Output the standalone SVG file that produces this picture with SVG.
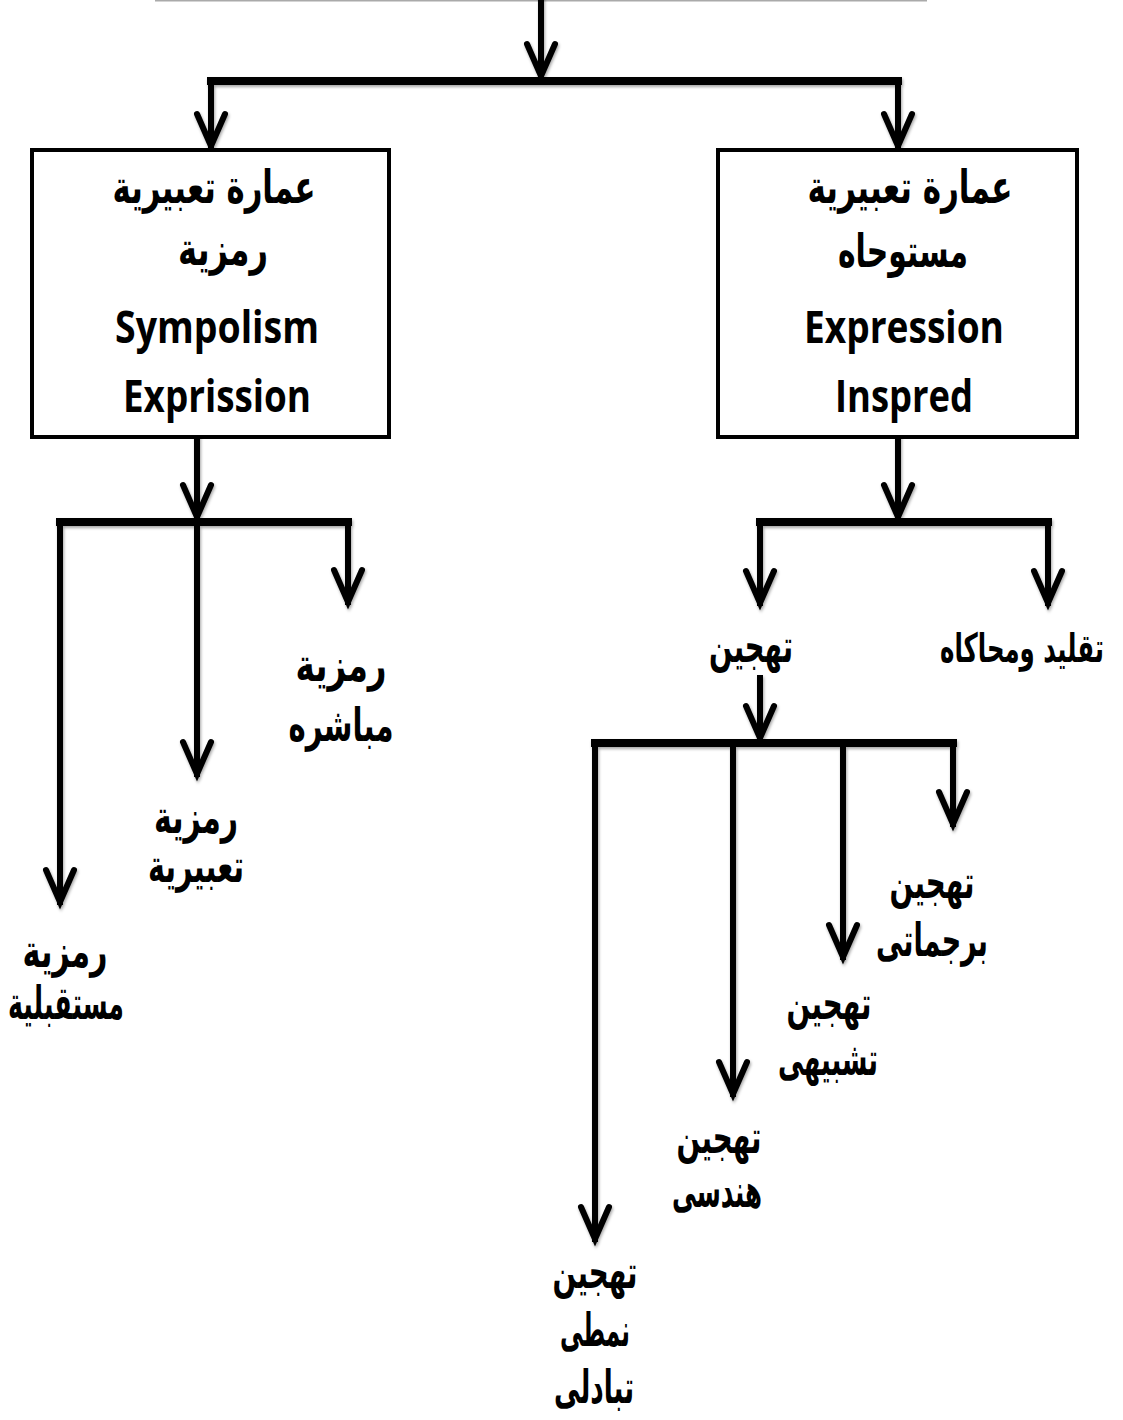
<svg xmlns="http://www.w3.org/2000/svg" width="1123" height="1420" viewBox="0 0 1123 1420">
<style>
.box{fill:#fff;stroke:#000;stroke-width:4}
.ar{font-family:"DejaVu Sans",sans-serif;font-weight:bold;font-size:46px;fill:#000;text-anchor:middle}
.en{font-family:"Open Sans","Liberation Sans",sans-serif;font-weight:700;font-size:44px;fill:#000;text-anchor:middle}
.ln{stroke:#000;stroke-width:6;fill:none;stroke-linecap:square}
.bar{stroke:#000;stroke-width:8;fill:none;stroke-linecap:square}
.hd{stroke:#000;stroke-width:6;fill:none;stroke-linecap:round;stroke-linejoin:miter}
</style>
<defs>
<filter id="sh" x="-10%" y="-10%" width="120%" height="120%">
<feDropShadow dx="1" dy="2" stdDeviation="1.5" flood-color="#000" flood-opacity="0.35"/>
</filter>
</defs>
<rect width="1123" height="1420" fill="#fff"/>
<line x1="155" y1="0.5" x2="927" y2="0.5" stroke="#aaa" stroke-width="2"/>

<g id="connectors" filter="url(#sh)">
  <line class="ln" x1="541" y1="0" x2="541" y2="76"/>
  <path class="hd" d="M527,44 L541,76 L555,44"/>
  <line class="bar" x1="211" y1="81" x2="898" y2="81"/>
  <line class="ln" x1="211" y1="81" x2="211" y2="146"/>
  <path class="hd" d="M197,114 L211,146 L225,114"/>
  <line class="ln" x1="898" y1="81" x2="898" y2="146"/>
  <path class="hd" d="M884,114 L898,146 L912,114"/>
  <line class="ln" x1="197" y1="438" x2="197" y2="517"/>
  <path class="hd" d="M183,485 L197,517 L211,485"/>
  <line class="bar" x1="60" y1="522" x2="348" y2="522"/>
  <line class="ln" x1="348" y1="522" x2="348" y2="602"/>
  <path class="hd" d="M334,570 L348,602 L362,570"/>
  <line class="ln" x1="197" y1="522" x2="197" y2="774"/>
  <path class="hd" d="M183,742 L197,774 L211,742"/>
  <line class="ln" x1="60" y1="522" x2="60" y2="902"/>
  <path class="hd" d="M46,870 L60,902 L74,870"/>
  <line class="ln" x1="898" y1="438" x2="898" y2="517"/>
  <path class="hd" d="M884,485 L898,517 L912,485"/>
  <line class="bar" x1="760" y1="522" x2="1048" y2="522"/>
  <line class="ln" x1="760" y1="522" x2="760" y2="603"/>
  <path class="hd" d="M746,571 L760,603 L774,571"/>
  <line class="ln" x1="1048" y1="522" x2="1048" y2="603"/>
  <path class="hd" d="M1034,571 L1048,603 L1062,571"/>
  <line class="ln" x1="760" y1="678" x2="760" y2="738"/>
  <path class="hd" d="M746,706 L760,738 L774,706"/>
  <line class="bar" x1="595" y1="743" x2="953" y2="743"/>
  <line class="ln" x1="953" y1="743" x2="953" y2="824"/>
  <path class="hd" d="M939,792 L953,824 L967,792"/>
  <line class="ln" x1="843" y1="743" x2="843" y2="957"/>
  <path class="hd" d="M829,925 L843,957 L857,925"/>
  <line class="ln" x1="733" y1="743" x2="733" y2="1094"/>
  <path class="hd" d="M719,1062 L733,1094 L747,1062"/>
  <line class="ln" x1="595" y1="743" x2="595" y2="1239"/>
  <path class="hd" d="M581,1207 L595,1239 L609,1207"/>
</g>

<g id="node-symbolism">
  <rect class="box" x="32" y="150" width="357" height="287"/>
  <text class="ar" x="214" y="203" textLength="203" lengthAdjust="spacingAndGlyphs">عمارة تعبيرية</text>
  <text class="ar" x="223" y="265" textLength="90" lengthAdjust="spacingAndGlyphs">رمزية</text>
  <text class="en" x="217" y="343" textLength="204" lengthAdjust="spacingAndGlyphs">Sympolism</text>
  <text class="en" x="217" y="412" textLength="188" lengthAdjust="spacingAndGlyphs">Exprission</text>
</g>

<g id="node-inspired">
  <rect class="box" x="718" y="150" width="359" height="287"/>
  <text class="ar" x="910" y="203" textLength="205" lengthAdjust="spacingAndGlyphs">عمارة تعبيرية</text>
  <text class="ar" x="903" y="267" textLength="130" lengthAdjust="spacingAndGlyphs">مستوحاه</text>
  <text class="en" x="904" y="343" textLength="200" lengthAdjust="spacingAndGlyphs">Expression</text>
  <text class="en" x="904" y="412" textLength="138" lengthAdjust="spacingAndGlyphs">Inspred</text>
</g>

<g id="node-direct">
  <text class="ar" x="341" y="681" textLength="91" lengthAdjust="spacingAndGlyphs">رمزية</text>
  <text class="ar" x="341" y="741" textLength="105" lengthAdjust="spacingAndGlyphs">مباشره</text>
</g>
<g id="node-expressive">
  <text class="ar" x="196" y="833" textLength="84" lengthAdjust="spacingAndGlyphs">رمزية</text>
  <text class="ar" x="196" y="882" textLength="96" lengthAdjust="spacingAndGlyphs">تعبيرية</text>
</g>
<g id="node-future">
  <text class="ar" x="65" y="967" textLength="85" lengthAdjust="spacingAndGlyphs">رمزية</text>
  <text class="ar" x="66" y="1019" textLength="116" lengthAdjust="spacingAndGlyphs">مستقبلية</text>
</g>

<g id="node-tahjeen">
  <text class="ar" x="751" y="662" textLength="84" lengthAdjust="spacingAndGlyphs">تهجين</text>
</g>
<g id="node-taqleed">
  <text class="ar" x="1022" y="662" style="font-size:40px" textLength="164" lengthAdjust="spacingAndGlyphs">تقليد ومحاكاه</text>
</g>

<g id="node-pragmatic">
  <text class="ar" x="932" y="898" textLength="85" lengthAdjust="spacingAndGlyphs">تهجين</text>
  <text class="ar" x="932" y="956" textLength="112" lengthAdjust="spacingAndGlyphs">برجماتى</text>
</g>
<g id="node-analogy">
  <text class="ar" x="829" y="1019" textLength="85" lengthAdjust="spacingAndGlyphs">تهجين</text>
  <text class="ar" x="828" y="1075" textLength="100" lengthAdjust="spacingAndGlyphs">تشبيهى</text>
</g>
<g id="node-geometric">
  <text class="ar" x="719" y="1153" textLength="85" lengthAdjust="spacingAndGlyphs">تهجين</text>
  <text class="ar" x="717" y="1207" textLength="90" lengthAdjust="spacingAndGlyphs">هندسى</text>
</g>
<g id="node-typical">
  <text class="ar" x="595" y="1288" textLength="85" lengthAdjust="spacingAndGlyphs">تهجين</text>
  <text class="ar" x="595" y="1346" textLength="70" lengthAdjust="spacingAndGlyphs">نمطى</text>
  <text class="ar" x="594" y="1403" textLength="80" lengthAdjust="spacingAndGlyphs">تبادلى</text>
</g>
</svg>
